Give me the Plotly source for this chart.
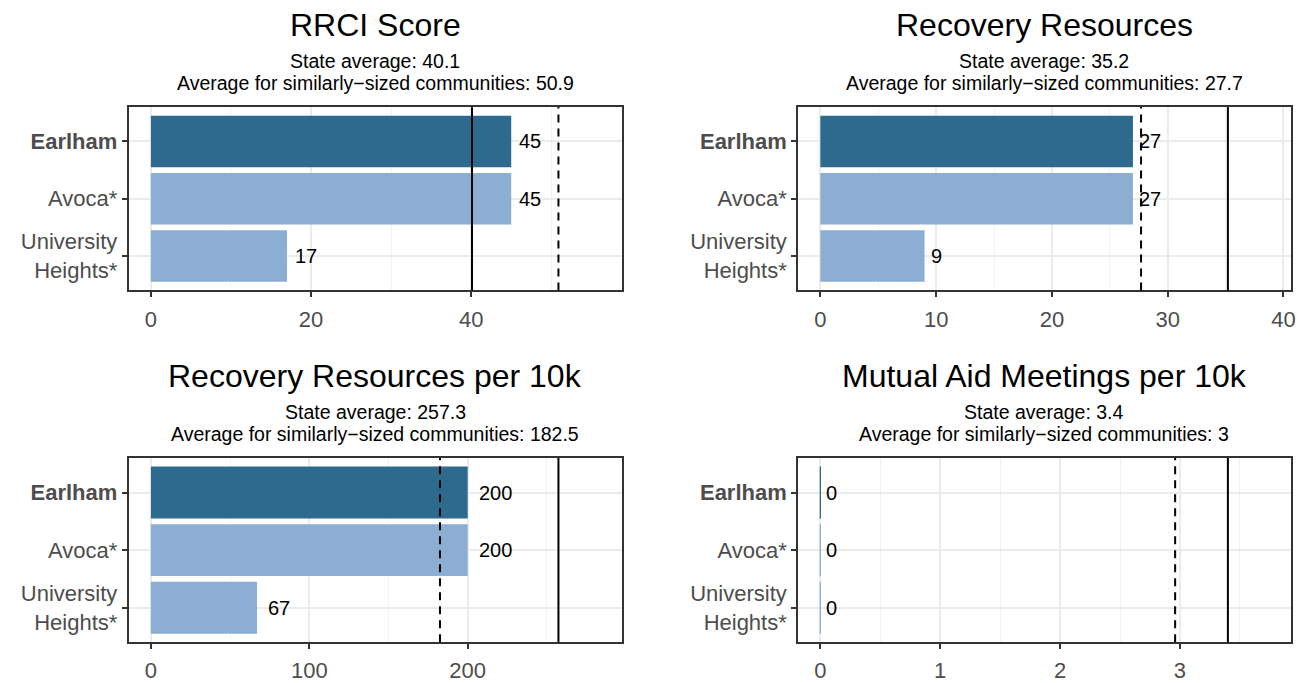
import plotly.graph_objects as go

# ---------------- data ----------------
categories = ["Earlham", "Avoca*", "University Heights*"]
tick_labels = ["<b>Earlham</b>", "Avoca*", "University<br>Heights*"]
panel_titles = ["RRCI Score", "Recovery Resources",
                "Recovery Resources per 10k", "Mutual Aid Meetings per 10k"]
rrci_score = [45, 45, 17]
recovery_resources = [27, 27, 9]
recovery_resources_10k = [200, 200, 67]
mutual_aid_10k = [0, 0, 0]
state_average = [40.1, 35.2, 257.3, 3.4]
similar_average = [50.9, 27.7, 182.5, 2.96]
x_dticks = [20, 10, 100, 1]

series = [rrci_score, recovery_resources, recovery_resources_10k, mutual_aid_10k]

# ---------------- style ----------------
W, H = 1310, 683
FONT = "Liberation Sans, Arial, Helvetica, sans-serif"
DARK = "#2E6A8E"
LIGHT = "#8CAED2"
bar_colors = [DARK, LIGHT, LIGHT]
label_shift = [6, 4, 9, 4]

# panel boxes in pixels (left, right, top, bottom)
col_x = [(129, 624), (801, 1296)]
row_y = [(108, 293), (462, 648)]

def fmt(v):
    r = round(v, 1)
    return f"{r:g}"

fig = go.Figure()
annotations = []
shapes = []

for i in range(4):
    r, c = divmod(i, 2)
    x0, x1 = col_x[c]
    ytop, ybot = row_y[r]
    ax = "" if i == 0 else str(i + 1)
    xname, yname = "x" + ax, "y" + ax
    vals = series[i]
    lim = max(max(vals), state_average[i], similar_average[i]) * 1.1
    xr = [-0.05 * lim, 1.05 * lim]

    fig.add_trace(go.Bar(
        x=vals, y=categories, orientation="h",
        marker=dict(color=bar_colors, line=dict(width=1 if max(vals) == 0 else 0,
                                                 color=bar_colors)),
        width=0.9, xaxis=xname, yaxis=yname, showlegend=False,
        hoverinfo="skip",
    ))

    axis_common = dict(
        showline=True, mirror=True, linecolor="#333333", linewidth=1.5,
        ticks="outside", ticklen=5, tickwidth=1.5, tickcolor="#333333",
        gridcolor="#EBEBEB", gridwidth=1.5, zeroline=False,
        tickfont=dict(family=FONT, size=22, color="#4D4D4D"),
    )
    fig.layout[("xaxis" + ax)] = dict(
        axis_common,
        domain=[x0 / W, x1 / W], anchor=yname, range=xr,
        tickmode="linear", tick0=0, dtick=x_dticks[i],
        ticklabelstandoff=3,
        minor=dict(dtick=x_dticks[i] / 2, tick0=0, showgrid=True,
                   gridcolor="#F2F2F2", gridwidth=0.8, ticks=""),
    )
    fig.layout[("yaxis" + ax)] = dict(
        axis_common,
        domain=[1 - ybot / H, 1 - ytop / H], anchor=xname,
        type="category", categoryorder="array",
        categoryarray=categories[::-1], range=[-0.6, 2.6],
        tickmode="array", tickvals=categories, ticktext=tick_labels,
    )

    # reference lines
    shapes.append(dict(type="line", xref=xname, yref=yname + " domain",
                       x0=state_average[i], x1=state_average[i], y0=0, y1=1,
                       line=dict(color="black", width=2)))
    shapes.append(dict(type="line", xref=xname, yref=yname + " domain",
                       x0=similar_average[i], x1=similar_average[i], y0=0, y1=1,
                       line=dict(color="black", width=2, dash="8px,6px")))

    # value labels
    for cat, v in zip(categories, vals):
        annotations.append(dict(
            x=v, y=cat, xref=xname, yref=yname, text=f"{v:g}",
            showarrow=False, xanchor="left", yanchor="middle",
            xshift=label_shift[i], font=dict(family=FONT, size=20, color="black")))

    # titles
    cx = (x0 + x1) / 2 / W
    off = ytop - 108
    annotations.append(dict(
        x=cx, y=1 - (25 + off) / H, xref="paper", yref="paper",
        text=panel_titles[i], showarrow=False, xanchor="center", yanchor="middle",
        font=dict(family=FONT, size=32, color="black")))
    annotations.append(dict(
        x=cx, y=1 - (62 + off) / H, xref="paper", yref="paper",
        text=f"State average: {fmt(state_average[i])}", showarrow=False,
        xanchor="center", yanchor="middle",
        font=dict(family=FONT, size=19.5, color="black")))
    annotations.append(dict(
        x=cx, y=1 - (84 + off) / H, xref="paper", yref="paper",
        text=f"Average for similarly\u2212sized communities: {fmt(similar_average[i])}",
        showarrow=False, xanchor="center", yanchor="middle",
        font=dict(family=FONT, size=19.5, color="black")))

fig.update_layout(
    width=W, height=H, margin=dict(l=0, r=0, t=0, b=0),
    paper_bgcolor="white", plot_bgcolor="white",
    annotations=annotations, shapes=shapes, bargap=0.1,
    font=dict(family=FONT),
)

fig.write_html("out.html", config={"displayModeBar": False},
               post_script="document.body.style.margin='0';document.body.style.overflow='hidden';")
